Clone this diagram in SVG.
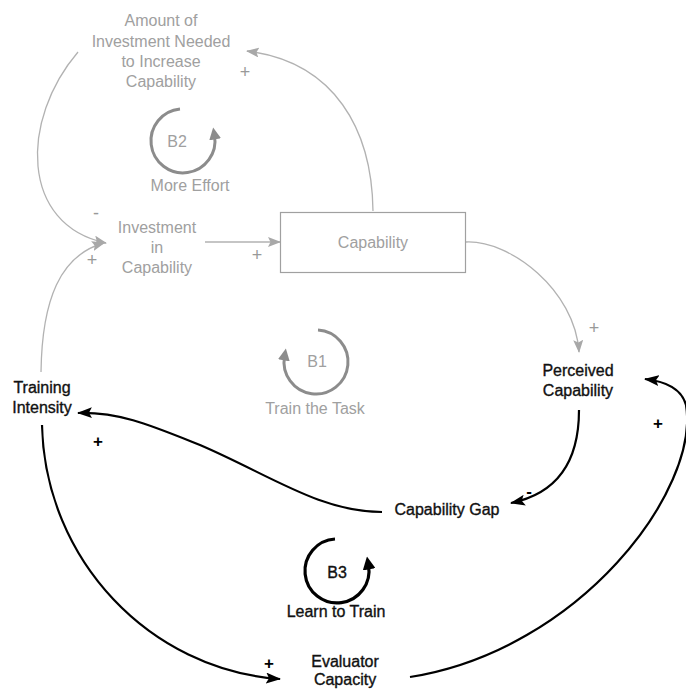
<svg xmlns="http://www.w3.org/2000/svg" width="686" height="690" viewBox="0 0 686 690">
  <style>
    text { font-family: "Liberation Sans", Arial, sans-serif; font-size: 16px; text-anchor: middle; }
    .lite { fill: #a0a0a0; }
    .dark { fill: #111; stroke: #111; stroke-width: 0.35; }
    .sign-lite { fill: #999; font-size: 18px; }
    .sign-dark { fill: #000; font-size: 17px; font-weight: bold; }
    .link-lite { fill: none; stroke: #b2b2b2; stroke-width: 1.3; marker-end: url(#tip-lite); }
    .link-dark { fill: none; stroke: #000; stroke-width: 2.2; marker-end: url(#tip-dark); }
    .loop-lite { fill: none; stroke: #8c8c8c; stroke-width: 3; marker-end: url(#loop-tip-lite); }
    .loop-dark { fill: none; stroke: #000; stroke-width: 3.2; marker-end: url(#loop-tip-dark); }
  </style>
  <defs>
    <marker id="tip-lite" viewBox="0 0 13 10" refX="12" refY="5" markerWidth="13" markerHeight="10" orient="auto" markerUnits="userSpaceOnUse">
      <path d="M0,0 L13,5 L0,10 L2.5,5 z" fill="#a8a8a8"/>
    </marker>
    <marker id="tip-dark" viewBox="0 0 15 11" refX="14" refY="5.5" markerWidth="15" markerHeight="11" orient="auto" markerUnits="userSpaceOnUse">
      <path d="M0,0 L15,5.5 L0,11 L3,5.5 z" fill="#000"/>
    </marker>
    <marker id="loop-tip-lite" viewBox="0 0 12 12" refX="4" refY="6" markerWidth="12" markerHeight="12" orient="auto" markerUnits="userSpaceOnUse">
      <path d="M0,0 L12,6 L0,12 z" fill="#8c8c8c"/>
    </marker>
    <marker id="loop-tip-dark" viewBox="0 0 13 13" refX="4" refY="6.5" markerWidth="13" markerHeight="13" orient="auto" markerUnits="userSpaceOnUse">
      <path d="M0,0 L13,6.5 L0,13 z" fill="#000"/>
    </marker>
  </defs>

  <rect width="686" height="690" fill="#fff"/>

  <!-- connectors -->
  <g id="connectors">
    <path class="link-lite" d="M373,211 C372,130 335,62 247,51"/>
    <path class="link-lite" d="M78,52 C20,120 20,225 106,243"/>
    <path class="link-lite" d="M41,372 C42,300 60,255 104,243"/>
    <path class="link-lite" d="M205,242 L280,242"/>
    <path class="link-lite" d="M466,242 C510,240 575,290 579,352"/>
    <path class="link-dark" d="M579,410 C579,470 550,495 511,503"/>
    <path class="link-dark" d="M382,512 C320,512 270,475 200,445 C150,425 120,412 78,413"/>
    <path class="link-dark" d="M42,425 C45,560 150,670 280,679"/>
    <path class="link-dark" d="M410,677 C580,650 700,490 686,405 Q680,383 645,379"/>
  </g>

  <!-- polarity signs -->
  <g id="signs">
    <text class="sign-lite" x="245" y="78">+</text>
    <text class="sign-lite" x="96" y="219">-</text>
    <text class="sign-lite" x="92" y="266">+</text>
    <text class="sign-lite" x="257" y="261">+</text>
    <text class="sign-lite" x="594" y="334">+</text>
    <text class="sign-dark" x="658" y="429">+</text>
    <text class="sign-dark" x="529" y="497">-</text>
    <text class="sign-dark" x="98" y="447">+</text>
    <text class="sign-dark" x="269" y="669">+</text>
  </g>

  <!-- variables -->
  <g id="amount-needed">
    <text class="lite" x="161" y="26">Amount of</text>
    <text class="lite" x="161" y="47">Investment Needed</text>
    <text class="lite" x="161" y="67">to Increase</text>
    <text class="lite" x="161" y="87">Capability</text>
  </g>
  <g id="investment">
    <text class="lite" x="157" y="233">Investment</text>
    <text class="lite" x="157" y="253">in</text>
    <text class="lite" x="157" y="273">Capability</text>
  </g>
  <g id="capability">
    <rect x="280.5" y="212.5" width="185" height="60" fill="none" stroke="#a0a0a0" stroke-width="1.2"/>
    <text class="lite" x="373" y="248">Capability</text>
  </g>
  <g id="perceived-capability">
    <text class="dark" x="578" y="376">Perceived</text>
    <text class="dark" x="578" y="396">Capability</text>
  </g>
  <g id="training-intensity">
    <text class="dark" x="42" y="393">Training</text>
    <text class="dark" x="42" y="413">Intensity</text>
  </g>
  <g id="capability-gap">
    <text class="dark" x="447" y="515">Capability Gap</text>
  </g>
  <g id="evaluator-capacity">
    <text class="dark" x="345" y="667">Evaluator</text>
    <text class="dark" x="345" y="685">Capacity</text>
  </g>

  <!-- loop markers -->
  <g id="loop-b2">
    <path class="loop-lite" d="M180,109 A32,32 0 1 0 214.5,135.4"/>
    <text class="lite" x="177" y="147">B2</text>
    <text class="lite" x="190" y="191">More Effort</text>
  </g>
  <g id="loop-b1">
    <path class="loop-lite" d="M318,330 A32,32 0 1 1 284.5,356.4"/>
    <text class="lite" x="317" y="367">B1</text>
    <text class="lite" x="315" y="414">Train the Task</text>
  </g>
  <g id="loop-b3">
    <path class="loop-dark" d="M335,539 A32,32 0 1 0 368.5,565.4"/>
    <text class="dark" x="337" y="578">B3</text>
    <text class="dark" x="336" y="617">Learn to Train</text>
  </g>
</svg>
